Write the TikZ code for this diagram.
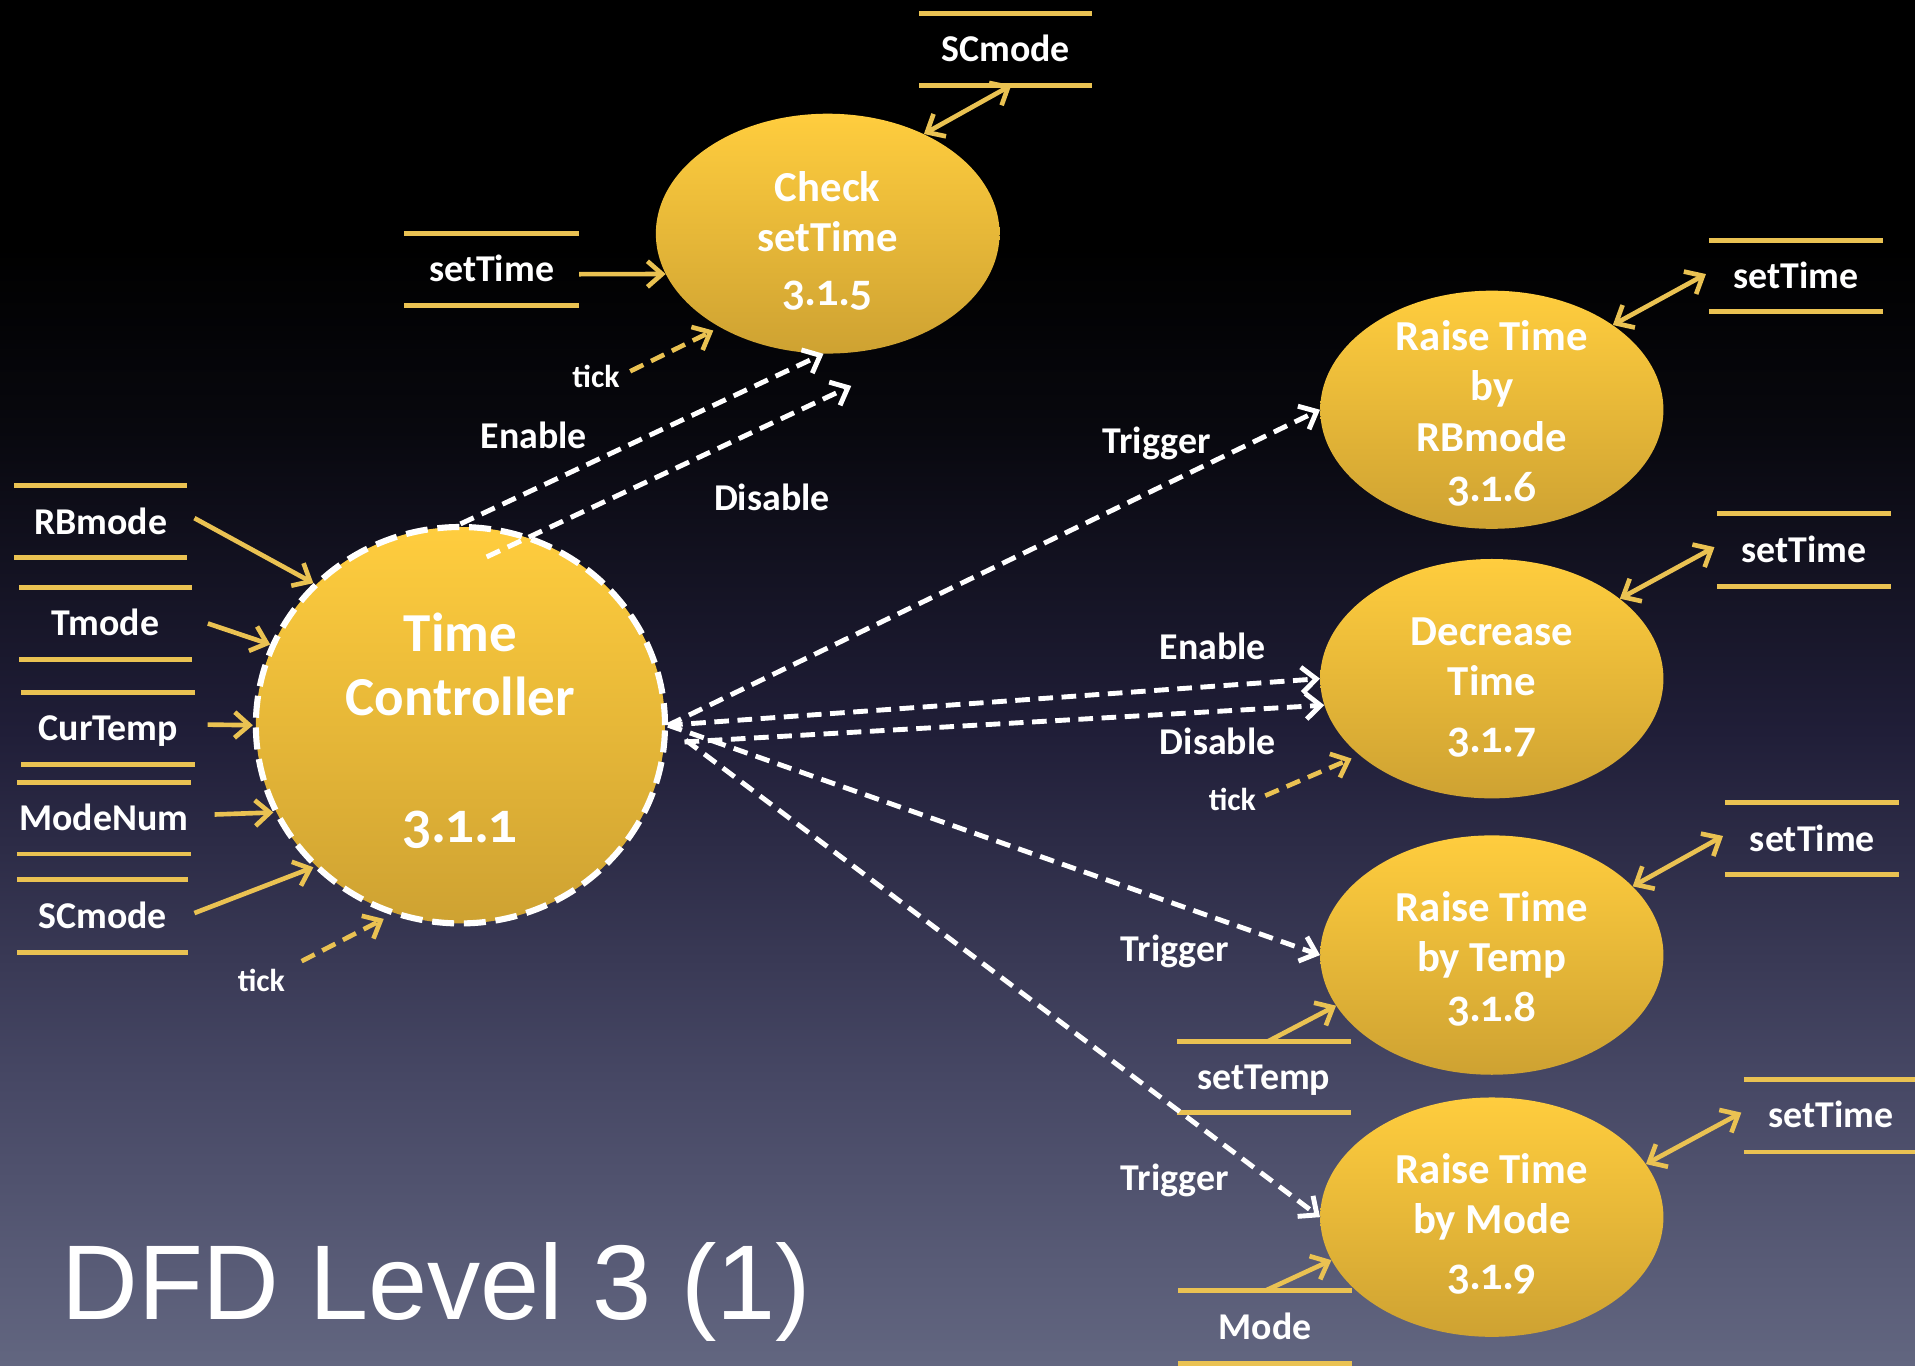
\documentclass[tikz,border=0pt]{standalone}
\usepackage{fontspec}
\setmainfont{Carlito}
\newfontfamily\numfont[Numbers=OldStyle]{Lato}
\newfontfamily\titlefont{Liberation Sans}
\usetikzlibrary{arrows.meta,shapes.geometric,calc}
\definecolor{ylw}{RGB}{234,194,82}
\definecolor{elltop}{RGB}{255,205,62}
\definecolor{ellbot}{RGB}{206,162,50}
\definecolor{bgA}{RGB}{98,102,128}
\definecolor{bgB}{RGB}{70,71,100}
\definecolor{bgC}{RGB}{32,30,56}
\definecolor{bgD}{RGB}{8,8,14}
\pgfdeclareverticalshading{bgshade}{100bp}{color(0bp)=(bgA); color(25bp)=(bgA); color(35.6bp)=(bgB); color(48.2bp)=(bgC); color(59.3bp)=(bgD); color(66bp)=(black); color(100bp)=(black)}
\tikzset{
  proc/.style={ellipse, inner sep=0pt, top color=elltop, bottom color=ellbot, draw=none},
  ptext/.style={text=white, align=center, inner sep=0pt, font=\bfseries\fontsize{35}{41}\selectfont},
  sline/.style={draw=ylw, line width=4pt, -},
  store/.style={inner sep=0pt, text=white, font=\bfseries\fontsize{31}{38}\selectfont, text height=20pt, text depth=0pt,
    append after command={(\tikzlastnode.north west) edge[sline] (\tikzlastnode.north east)
                          (\tikzlastnode.south west) edge[sline] (\tikzlastnode.south east)}},
  lbl/.style={text=white, inner sep=0pt, font=\bfseries\fontsize{31}{38}\selectfont, text height=20pt, text depth=0pt},
  ticklbl/.style={text=white, inner sep=0pt, font=\bfseries\fontsize{26}{32}\selectfont, text height=17pt, text depth=0pt},
  barb/.tip={Straight Barb[length=12pt,width=21pt]},
  flow/.style={draw=ylw, line width=3.8pt, -barb},
  bflow/.style={draw=ylw, line width=3.8pt, barb-barb},
  tickflow/.style={draw=ylw, line width=3.8pt, dash pattern=on 12pt off 7pt, -barb},
  ctrl/.style={draw=white, line width=4pt, dash pattern=on 12pt off 7pt, -barb}
}
\begin{document}
\begin{tikzpicture}[x=1pt,y=-1pt]
\useasboundingbox (0,0) rectangle (1568,1118);
\shade[shading=bgshade] (0,0) rectangle (1568,1118);

% processes
\node[proc, minimum width=281.4pt, minimum height=196.4pt] (chk) at (677.7,191.3) {};
\node[proc, minimum width=335pt, minimum height=324.6pt, draw=white, line width=5pt, dash pattern=on 18pt off 8pt] (tc) at (377,593.8) {};
\node[proc, minimum width=281pt, minimum height=195pt] (n316) at (1221.5,335.5) {};
\node[proc, minimum width=281pt, minimum height=196pt] (n317) at (1221.5,555.7) {};
\node[proc, minimum width=281pt, minimum height=196pt] (n318) at (1221.5,782) {};
\node[proc, minimum width=281pt, minimum height=196pt] (n319) at (1221.5,996.6) {};

% data stores
\node[store, minimum width=141pt, minimum height=58.5pt] (sRB) at (82.5,427.25) {RBmode};
\node[store, minimum width=141pt, minimum height=59pt] (sT) at (86.5,510.5) {Tmode};
\node[store, minimum width=142pt, minimum height=58.6pt] (sCT) at (88.75,596.3) {CurTemp};
\node[store, minimum width=142pt, minimum height=58.3pt] (sMN) at (85,669.9) {ModeNum};
\node[store, minimum width=140pt, minimum height=59pt] (sSC) at (84,750) {SCmode};
\node[store, minimum width=141pt, minimum height=58pt] (sSC2) at (823.5,40.6) {SCmode};
\node[store, minimum width=143pt, minimum height=58.5pt] (sST) at (402.5,220.7) {setTime};
\node[store, minimum width=142pt, minimum height=58pt] (s6) at (1470.5,226) {setTime};
\node[store, minimum width=142pt, minimum height=59pt] (s7) at (1477,450.5) {setTime};
\node[store, minimum width=142pt, minimum height=58.4pt] (s8) at (1484,686.8) {setTime};
\node[store, minimum width=142pt, minimum height=59pt] (s9) at (1499,913.5) {setTime};
\node[store, minimum width=142pt, minimum height=58pt] (sTemp) at (1034.9,882) {setTemp};
\node[store, minimum width=142pt, minimum height=59pt] (sMode) at (1036,1086.5) {Mode};

% labels
\node[lbl] (lEn1) at (437,357) {Enable};
\node[lbl] (lDis1) at (632,408) {Disable};
\node[lbl] (lTr1) at (947,361) {Trigger};
\node[lbl] (lEn2) at (993,530) {Enable};
\node[lbl] (lDis2) at (997,608) {Disable};
\node[lbl] (lTr2) at (962,777) {Trigger};
\node[lbl] (lTr3) at (962,965) {Trigger};
\node[ticklbl] (tk0) at (214,803) {tick};
\node[ticklbl] (tk5) at (488,308.6) {tick};
\node[ticklbl] (tk7) at (1009,655) {tick};
\coordinate (tk0s) at (247,787);
\coordinate (tk5s) at (516,304);
\coordinate (tk7s) at (1036,651.5);

% flows into Time Controller
\draw[flow] ([xshift=6pt,yshift=3pt]sRB.east) -- (tc.136);
\draw[flow] ([xshift=13pt]sT.east) -- (tc.157);
\draw[flow] ([xshift=10pt,yshift=3pt]sCT.east) -- (tc.180);
\draw[flow] ([xshift=19.5pt,yshift=3pt]sMN.east) -- (tc.-155);
\draw[flow] ([xshift=5pt,yshift=2.4pt]sSC.east) -- (tc.-136);
\draw[tickflow, shorten >=7pt] (tk0s) -- (tc.-110);

% Check setTime
\draw[flow] ([yshift=-3.8pt]sST.east) -- (chk.-166);
\draw[bflow] ([xshift=4.5pt]sSC2.south) -- (chk.46);
\draw[tickflow, shorten >=6pt] (tk5s) -- (chk.-139);
\draw[ctrl] (tc.north) -- (chk.-92);
\draw[ctrl] ([xshift=21.5pt,yshift=-27pt]tc.north) -- ([xshift=19.3pt,yshift=-26.3pt]chk.south);

% right side control flows
\draw[ctrl] (tc.east) -- (n316.west);
\draw[ctrl] (tc.east) -- (n317.west);
\draw[ctrl] ([xshift=13.5pt,yshift=-13.7pt]tc.east) -- (n317.-171.5);
\draw[ctrl] (tc.east) -- (n318.west);
\draw[ctrl] ([xshift=14.5pt,yshift=-12.2pt]tc.east) -- (n319.west);
\draw[tickflow, shorten >=7pt] (tk7s) -- (n317.-150.6);

% store flows right
\draw[bflow] ([xshift=-2.5pt,yshift=1.6pt]s6.west) -- (n316.35);
\draw[bflow] ([xshift=-2pt,yshift=2.5pt]s7.west) -- (n317.32);
\draw[bflow] ([xshift=-2pt,yshift=2.3pt]s8.west) -- (n318.26);
\draw[bflow] ([xshift=-2pt,yshift=2.5pt]s9.west) -- (n319.19);
\draw[flow] ([xshift=3pt]sTemp.north) -- (n318.-162.4);
\draw[flow] (sMode.north) -- (n319.-165);

% process texts
\node[ptext] (tchk) at (677.7,197) {Check\\setTime\\[3pt]{\numfont 3.1.5}};
\node[ptext, font=\bfseries\fontsize{45}{52}\selectfont] (ttc) at (377,598.5) {Time\\Controller\\[52pt]{\numfont 3.1.1}};
\node[ptext] (t316) at (1221.5,338.5) {Raise Time\\by\\RBmode\\{\numfont 3.1.6}};
\node[ptext] (t317) at (1221.5,562.9) {Decrease\\Time\\[6pt]{\numfont 3.1.7}};
\node[ptext] (t318) at (1221.5,785) {Raise Time\\by Temp\\{\numfont 3.1.8}};
\node[ptext] (t319) at (1221.5,1002.3) {Raise Time\\by Mode\\[5pt]{\numfont 3.1.9}};

% title
\node[anchor=base west, inner sep=0pt, text=white, font=\titlefont\fontsize{87}{100}\selectfont] (title) at (50,1080) {DFD Level 3 (1)};
\end{tikzpicture}
\end{document}
